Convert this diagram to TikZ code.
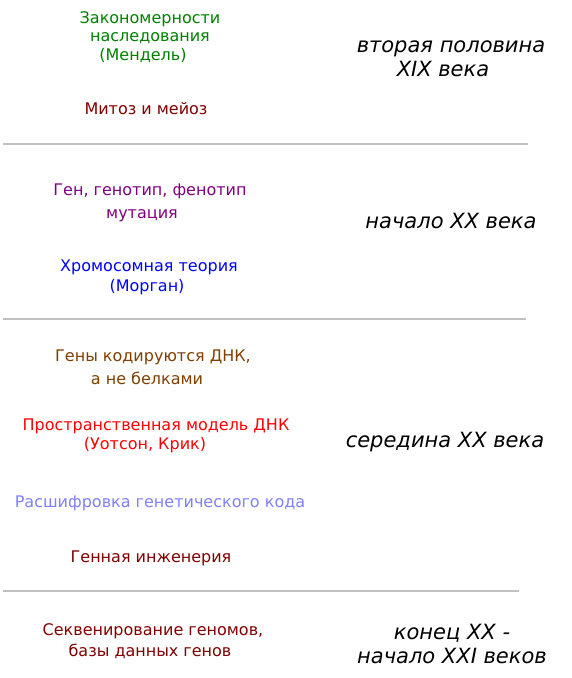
\documentclass[tikz,border=0pt]{standalone}
\usepackage{fontspec}
\setmainfont{DejaVu Sans}
\definecolor{vert}{HTML}{008000}
\definecolor{bordeaux}{HTML}{800000}
\definecolor{violet}{HTML}{800080}
\definecolor{bleu}{HTML}{0000FF}
\definecolor{brun}{HTML}{804000}
\definecolor{rouge}{HTML}{FF0000}
\definecolor{lavande}{HTML}{8080FF}
\definecolor{trait}{HTML}{C0C0C0}
\tikzset{
  fait/.style={align=center,inner sep=0pt,font=\fontsize{16}{#1}\selectfont},
  fait/.default=20,
  epoque/.style={align=center,inner sep=0pt,font=\fontsize{21}{23.5}\selectfont\itshape},
  separe/.style={draw=trait,line width=1.8pt}
}
\begin{document}
\begin{tikzpicture}[x=1pt,y=-1pt]
\useasboundingbox (0,0) rectangle (571,678);
% faits a gauche
\node[fait=18.5,text=vert] (mendel) at (150,37) {Закономерности\\наследования\\(Мендель)\hspace*{14pt}};
\node[fait,text=bordeaux] (mitose) at (146,109) {Митоз и мейоз};
\node[fait=23,text=violet] (gene) at (150,203) {Ген, генотип, фенотип\\мутация\hspace*{16pt}};
\node[fait,text=bleu] (morgan) at (149,277) {Хромосомная теория\\(Морган)\hspace*{4pt}};
\node[fait=23,text=brun] (adn) at (153,367) {Гены кодируются ДНК,\\а не белками\hspace*{12pt}};
\node[fait=19,text=rouge] (watson) at (156,436) {Пространственная модель ДНК\\(Уотсон, Крик)\hspace*{22pt}};
\node[fait,text=lavande] (code) at (160,503) {Расшифровка генетического кода};
\node[fait,text=bordeaux] (genie) at (151,558) {Генная инженерия};
\node[fait=21,text=bordeaux] (genome) at (153,641) {Секвенирование геномов,\\базы данных генов\hspace*{6pt}};
% epoques a droite
\node[epoque] (xix) at (451,59) {вторая половина\\XIX века\hspace*{16pt}};
\node[epoque] (debut) at (451,221) {начало XX века};
\node[epoque] (milieu) at (445,442) {середина XX века};
\node[epoque] (fin) at (451,644) {\hspace*{2pt}конец XX -\\начало XXI веков\hspace*{-2pt}};
% traits de separation
\coordinate (a1) at (3,144); \coordinate (b1) at (528,144);
\coordinate (a2) at (3,319); \coordinate (b2) at (526,319);
\coordinate (a3) at (3,591); \coordinate (b3) at (519,591);
\draw[separe] (a1) -- (b1);
\draw[separe] (a2) -- (b2);
\draw[separe] (a3) -- (b3);
\end{tikzpicture}
\end{document}
